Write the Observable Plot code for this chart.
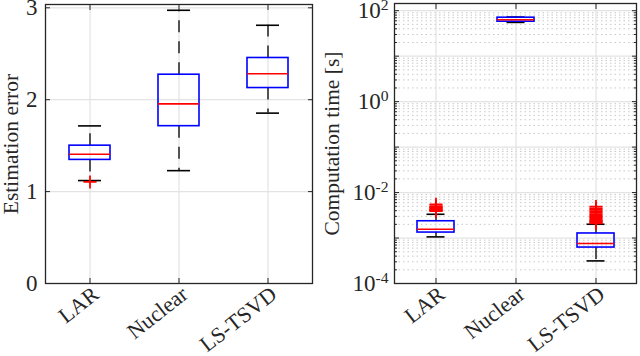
<!DOCTYPE html>
<html><head><meta charset="utf-8">
<script src="https://cdn.jsdelivr.net/npm/d3@7"></script>
<script src="https://cdn.jsdelivr.net/npm/@observablehq/plot@0.6"></script>
<style>
body{margin:0;background:#fff;}
#wrap{display:flex;width:640px;height:356px;}
#wrap svg{font-family:"Liberation Serif","Times New Roman",serif;background:#fff;}
</style></head><body><div id="wrap"></div>
<script>
const categories = ["LAR", "Nuclear", "LS-TSVD"];

// Left panel: estimation error (box-plot summaries)
const errLow  = [1.12, 1.228, 1.854];
const errQ1   = [1.345, 1.712, 2.127];
const errMed  = [1.407, 1.955, 2.283];
const errQ3   = [1.50, 2.272, 2.454];
const errHigh = [1.715, 2.973, 2.81];
const errOutCat = ["LAR"];
const errOutVal = [1.105];
const errTicks = [0, 1, 2, 3];

// Right panel: computation time [s]
const timeLow  = [1.06e-3, 55.3, 3.14e-4];
const timeQ1   = [1.32e-3, 57.3, 6.18e-4];
const timeMed  = [1.56e-3, 63.4, 7.57e-4];
const timeQ3   = [2.34e-3, 70.2, 1.26e-3];
const timeHigh = [3.33e-3, 72.3, 2.01e-3];
const timeOutCat = ["LAR","LAR","LAR","LAR","LAR","LAR","LAR","LAR","LAR",
  "LS-TSVD","LS-TSVD","LS-TSVD","LS-TSVD","LS-TSVD","LS-TSVD","LS-TSVD","LS-TSVD",
  "LS-TSVD","LS-TSVD","LS-TSVD","LS-TSVD","LS-TSVD","LS-TSVD"];
const timeOutVal = [3.9e-3,4.0e-3,4.1e-3,4.2e-3,4.4e-3,4.6e-3,4.8e-3,5.0e-3,5.5e-3,
  2.1e-3,2.2e-3,2.3e-3,2.4e-3,2.5e-3,2.7e-3,2.9e-3,3.1e-3,3.3e-3,3.6e-3,3.9e-3,4.2e-3,4.5e-3,4.9e-3];
const timeTicks = [1e-4, 1e-2, 1, 1e2];
const timeTickLabels = ["10^-4", "10^-2", "10^0", "10^2"];
const timeGridMajor = [1e-4, 1e-3, 1e-2, 1e-1, 1, 10, 100];
const minorMult = [2, 3, 4, 5, 6, 7, 8, 9];
const timeGridMinor = timeGridMajor.flatMap(d => minorMult.map(m => d * m)).filter(v => v < 141);

const rows = (lo, q1, md, q3, hi) => categories.map((c, i) => ({cat: c, lo: lo[i], q1: q1[i], med: md[i], q3: q3[i], hi: hi[i]}));
const errRows = rows(errLow, errQ1, errMed, errQ3, errHigh);
const timeRows = rows(timeLow, timeQ1, timeMed, timeQ3, timeHigh);
const errOut = errOutCat.map((c, i) => ({cat: c, v: errOutVal[i]}));
const timeOut = timeOutCat.map((c, i) => ({cat: c, v: timeOutVal[i]}));

const FS = 23;
const CAT_FS = 22;
const frameColor = "#262626";
const gridColor = "#e3e3e3";

function boxMarks(data, outs, capInset) {
  return [
    Plot.ruleX(data, {x: "cat", y1: "q3", y2: "hi", stroke: "black", strokeWidth: 1.3, strokeDasharray: "12,9"}),
    Plot.ruleX(data, {x: "cat", y1: "q1", y2: "lo", stroke: "black", strokeWidth: 1.3, strokeDasharray: "12,9"}),
    Plot.tickY(data, {x: "cat", y: "hi", stroke: "black", strokeWidth: 1.6, insetLeft: capInset, insetRight: capInset}),
    Plot.tickY(data, {x: "cat", y: "lo", stroke: "black", strokeWidth: 1.6, insetLeft: capInset, insetRight: capInset}),
    Plot.barY(data, {x: "cat", y1: "q1", y2: "q3", fill: "none", stroke: "#0000ff", strokeWidth: 1.6}),
    Plot.tickY(data, {x: "cat", y: "med", stroke: "#ff0000", strokeWidth: 1.6}),
    Plot.dot(outs, {x: "cat", y: "v", symbol: "plus", r: 4.3, stroke: "#ff0000", strokeWidth: 1.8})
  ];
}

function xAxisMarks() {
  return [
    Plot.axisX({anchor: "bottom", tickSize: 5, dy: -5, tickFormat: () => "", stroke: frameColor, label: null}),
    Plot.axisX({anchor: "top", tickSize: 5, dy: 5, tickFormat: () => "", stroke: frameColor, label: null}),
    Plot.axisX({anchor: "bottom", tickSize: 0, tickPadding: 8, dx: 6, tickRotate: -38, fontSize: CAT_FS, fill: "#262626", label: null})
  ];
}

// Left chart
const left = Plot.plot({
  width: 320, height: 356,
  marginLeft: 45, marginRight: 8, marginTop: 4, marginBottom: 73,
  x: {type: "band", domain: categories, paddingInner: 0.54, paddingOuter: 0.27, axis: null},
  y: {domain: [0, 3.036], axis: null},
  marks: [
    Plot.gridY(errTicks, {stroke: gridColor, strokeOpacity: 1, strokeWidth: 1.2}),
    Plot.gridX({stroke: gridColor, strokeOpacity: 1, strokeWidth: 1.2}),
    ...boxMarks(errRows, errOut, 9),
    Plot.frame({stroke: frameColor, strokeWidth: 1.3}),
    Plot.axisY(errTicks, {anchor: "left", tickSize: 5, dx: 5, tickFormat: () => "", stroke: frameColor, label: null}),
    Plot.axisY(errTicks, {anchor: "right", tickSize: 5, dx: -5, tickFormat: () => "", stroke: frameColor, label: null}),
    Plot.axisY(errTicks, {anchor: "left", tickSize: 0, tickPadding: 8, fontSize: FS, fill: "#262626",
      tickFormat: (d) => String(d),
      label: "Estimation error", labelAnchor: "center", labelOffset: 43, labelArrow: "none"}),
    ...xAxisMarks()
  ]
});

// Right chart
const right = Plot.plot({
  width: 320, height: 356,
  marginLeft: 74, marginRight: 4, marginTop: 3, marginBottom: 73,
  x: {type: "band", domain: categories, paddingInner: 0.54, paddingOuter: 0.27, axis: null},
  y: {type: "log", domain: [1e-4, 144], axis: null},
  marks: [
    Plot.gridY(timeGridMinor, {stroke: "#c8c8c8", strokeOpacity: 1, strokeWidth: 1, strokeDasharray: "1.5,3"}),
    Plot.gridY(timeGridMajor, {stroke: gridColor, strokeOpacity: 1, strokeWidth: 1.2}),
    Plot.gridX({stroke: gridColor, strokeOpacity: 1, strokeWidth: 1.2}),
    ...boxMarks(timeRows, timeOut, 9.5),
    Plot.frame({stroke: frameColor, strokeWidth: 1.3}),
    Plot.axisY(timeGridMajor, {anchor: "left", tickSize: 5, dx: 5, tickFormat: () => "", stroke: frameColor, label: null}),
    Plot.axisY(timeGridMajor, {anchor: "right", tickSize: 5, dx: -5, tickFormat: () => "", stroke: frameColor, label: null}),
    Plot.axisY(timeGridMinor, {anchor: "left", tickSize: 3, dx: 3, tickFormat: () => "", stroke: frameColor, label: null}),
    Plot.axisY(timeGridMinor, {anchor: "right", tickSize: 3, dx: -3, tickFormat: () => "", stroke: frameColor, label: null}),
    Plot.axisY(timeTicks, {anchor: "left", tickSize: 0, tickPadding: 6, fontSize: FS, fill: "#262626",
      tickFormat: (d) => timeTickLabels[timeTicks.indexOf(d)],
      label: "Computation time [s]", labelAnchor: "center", labelOffset: 71, labelArrow: "none"}),
    ...xAxisMarks()
  ]
});

// Axis-title font size
[left, right].forEach(svg => {
  svg.querySelectorAll('g[aria-label="y-axis label"] text').forEach(t => t.setAttribute("font-size", "21.5"));
  const g = svg.querySelector('g[aria-label="y-axis label"]');
  if (g) g.setAttribute("font-size", "21.5");
});

// Superscript exponents on the log axis labels
right.querySelectorAll('g[aria-label="y-axis tick label"] text').forEach(t => {
  const s = t.textContent;
  const k = s.indexOf("^");
  if (k < 0) return;
  t.textContent = "";
  const base = document.createElementNS("http://www.w3.org/2000/svg", "tspan");
  base.textContent = s.slice(0, k);
  const sup = document.createElementNS("http://www.w3.org/2000/svg", "tspan");
  sup.textContent = s.slice(k + 1);
  sup.setAttribute("dy", "-0.5em");
  sup.setAttribute("font-size", "0.68em");
  t.appendChild(base);
  t.appendChild(sup);
});

document.getElementById("wrap").append(left, right);
</script>
</body></html>
